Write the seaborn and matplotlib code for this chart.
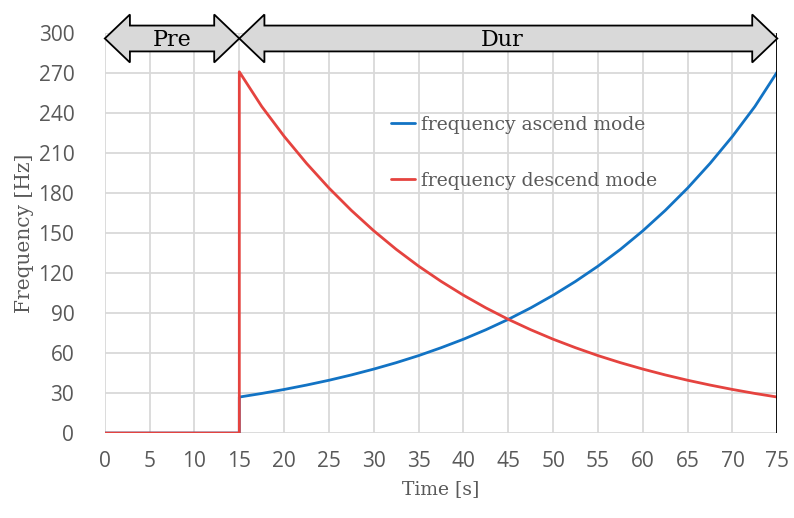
import matplotlib
matplotlib.use('Agg')
import matplotlib.pyplot as plt
from matplotlib.patches import Polygon
import pandas as pd
import seaborn as sns

sns.set_theme(style='whitegrid')
plt.rcParams.update({'font.family': ['Open Sans', 'DejaVu Sans']})

# values (time in s, frequency in Hz)
time_s = [0, 15, 15, 17.5, 20, 22.5, 25, 27.5, 30, 32.5, 35, 37.5, 40, 42.5,
          45, 47.5, 50, 52.5, 55, 57.5, 60, 62.5, 65, 67.5, 70, 72.5, 75]
ascend_hz = [0, 0, 27, 29.7, 32.7, 36, 39.6, 43.6, 48, 52.8, 58.1, 64, 70.4, 77.5,
             85.3, 93.9, 103.4, 113.8, 125.2, 137.8, 151.7, 167, 183.8, 202.3, 222.6, 245, 271]
descend_hz = [0, 0, 271, 245, 222.6, 202.3, 183.8, 167, 151.7, 137.8, 125.2, 113.8, 103.4, 93.9,
              85.3, 77.5, 70.4, 64, 58.1, 52.8, 48, 43.6, 39.6, 36, 32.7, 29.7, 27]
series_names = ['frequency ascend mode', 'frequency descend mode']
phase_names = ['Pre', 'Dur']
phase_bounds = [(0, 15), (15, 75)]

blue = '#1273c4'
red = '#e5433f'
grey_txt = '#595959'
serif = ['DejaVu Serif']

df = pd.concat([
    pd.DataFrame({'Time': time_s, 'Freq': ascend_hz, 'mode': series_names[0]}),
    pd.DataFrame({'Time': time_s, 'Freq': descend_hz, 'mode': series_names[1]}),
])

fig = plt.figure(figsize=(7.94, 5.18), dpi=100)
ax = fig.add_axes([0.132, 0.164, 0.847, 0.772])

sns.lineplot(data=df, x='Time', y='Freq', hue='mode', palette=[blue, red],
             estimator=None, sort=False, lw=2.0, ax=ax)

ax.set_xlim(0, 75)
ax.set_ylim(0, 300)
ax.set_xticks(range(0, 76, 5))
ax.set_yticks(range(0, 301, 30))
ax.grid(True, color='#d9d9d9', lw=1.3)
ax.set_axisbelow(True)
for s in ax.spines.values():
    s.set_visible(False)
ax.tick_params(axis='both', colors=grey_txt, labelsize=15, length=0)
ax.tick_params(axis='y', pad=22)
ax.tick_params(axis='x', pad=13)
ax.axvline(75, color='black', lw=1.3, zorder=4)

ax.set_xlabel('Time [s]', family=serif, fontsize=13.5, color=grey_txt, labelpad=6)
ax.set_ylabel('Frequency [Hz]', family=serif, fontsize=14.5, color=grey_txt, labelpad=3)

leg = ax.legend(loc='upper left', bbox_to_anchor=(0.40, 0.835), frameon=False,
                handlelength=1.3, handletextpad=0.3, labelspacing=2.0,
                prop={'family': serif, 'size': 13.5})
for t in leg.get_texts():
    t.set_color(grey_txt)

# double-headed phase arrows on top
yc, hs, hh = 296, 9.7, 18
for name, (a, b) in zip(phase_names, phase_bounds):
    hl = 2.8
    pts = [(a, yc), (a + hl, yc + hh), (a + hl, yc + hs), (b - hl, yc + hs),
           (b - hl, yc + hh), (b, yc), (b - hl, yc - hh), (b - hl, yc - hs),
           (a + hl, yc - hs), (a + hl, yc - hh)]
    ax.add_patch(Polygon(pts, closed=True, fc='#d9d9d9', ec='black', lw=1.3,
                         clip_on=False, zorder=5))
cx = [7.5, 44.3]
for name, x in zip(phase_names, cx):
    ax.text(x, yc - 1, name, ha='center', va='center', family=serif,
            fontsize=16, color='black', zorder=6, clip_on=False)

fig.savefig('out.png', dpi=100)
